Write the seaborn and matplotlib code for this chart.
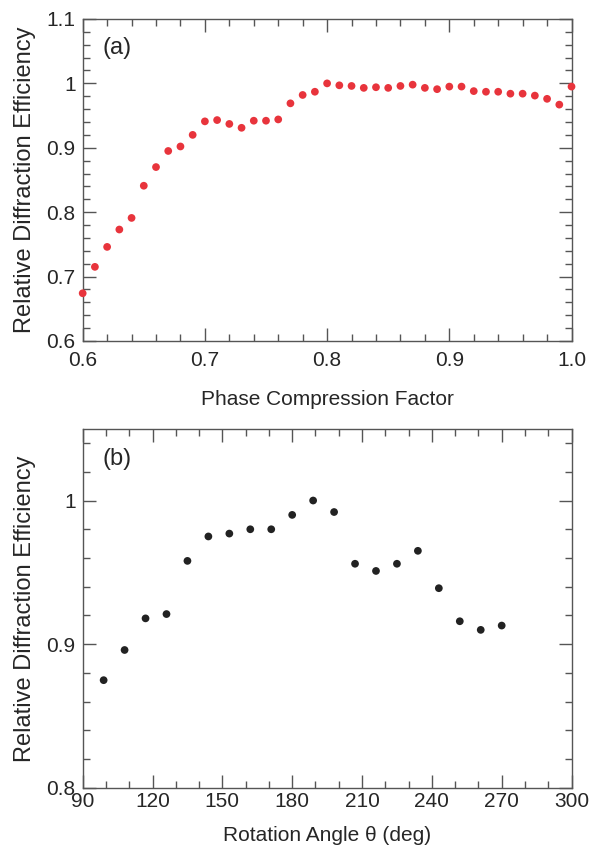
import numpy as np
import pandas as pd
import matplotlib
matplotlib.use('Agg')
import matplotlib.pyplot as plt
from matplotlib.ticker import MultipleLocator, FormatStrFormatter
import seaborn as sns

sns.set_style('ticks')
plt.rcParams['font.family'] = ['Liberation Sans', 'DejaVu Sans']

# panel (a): phase compression factor vs relative efficiency
factor = [0.60, 0.61, 0.62, 0.63, 0.64, 0.65, 0.66, 0.67, 0.68, 0.69,
          0.70, 0.71, 0.72, 0.73, 0.74, 0.75, 0.76, 0.77, 0.78, 0.79,
          0.80, 0.81, 0.82, 0.83, 0.84, 0.85, 0.86, 0.87, 0.88, 0.89,
          0.90, 0.91, 0.92, 0.93, 0.94, 0.95, 0.96, 0.97, 0.98, 0.99, 1.00]
eff_a = [0.674, 0.715, 0.746, 0.773, 0.791, 0.841, 0.870, 0.895, 0.902, 0.920,
         0.941, 0.943, 0.937, 0.931, 0.942, 0.942, 0.944, 0.969, 0.982, 0.987,
         1.000, 0.997, 0.996, 0.993, 0.994, 0.993, 0.996, 0.998, 0.993, 0.991,
         0.995, 0.995, 0.988, 0.987, 0.987, 0.984, 0.984, 0.981, 0.976, 0.967, 0.995]

# panel (b): rotation angle vs relative efficiency
angle = [99, 108, 117, 126, 135, 144, 153, 162, 171, 180,
         189, 198, 207, 216, 225, 234, 243, 252, 261, 270]
eff_b = [0.875, 0.896, 0.918, 0.921, 0.958, 0.975, 0.977, 0.980, 0.980, 0.990,
         1.000, 0.992, 0.956, 0.951, 0.956, 0.965, 0.939, 0.916, 0.910, 0.913]

df_a = pd.DataFrame({'factor': factor, 'eff': eff_a})
df_b = pd.DataFrame({'angle': angle, 'eff': eff_b})

fig = plt.figure(figsize=(6.08, 8.48), dpi=100)
ax1 = fig.add_axes([0.136, 0.598, 0.804, 0.3796])
ax2 = fig.add_axes([0.136, 0.0708, 0.804, 0.4237])

sns.scatterplot(data=df_a, x='factor', y='eff', ax=ax1, color='#e8343c',
                s=31, edgecolor='none', clip_on=False, zorder=3)
sns.scatterplot(data=df_b, x='angle', y='eff', ax=ax2, color='#222222',
                s=31, edgecolor='none', clip_on=False, zorder=3)

spine_col = '#555555'
for ax in (ax1, ax2):
    for sp in ax.spines.values():
        sp.set_visible(True)
        sp.set_color(spine_col)
        sp.set_linewidth(1.0)
    ax.tick_params(which='both', direction='in', top=True, right=True,
                   color=spine_col, width=1.0, labelsize=15)
    ax.tick_params(axis='y', pad=5)
    ax.tick_params(which='major', length=9.5)
    ax.tick_params(which='minor', length=4.8)
    ax.set_ylabel('Relative Diffraction Efficiency', fontsize=17, labelpad=8)

ax1.tick_params(axis='x', pad=7)
ax2.tick_params(axis='x', pad=3)

ax1.set_xlim(0.6, 1.0)
ax1.set_ylim(0.6, 1.1)
ax1.xaxis.set_major_locator(MultipleLocator(0.1))
ax1.xaxis.set_minor_locator(MultipleLocator(0.02))
ax1.yaxis.set_major_locator(MultipleLocator(0.1))
ax1.yaxis.set_minor_locator(MultipleLocator(0.02))
ax1.xaxis.set_major_formatter(FormatStrFormatter('%.1f'))
ax1.set_yticks([0.6, 0.7, 0.8, 0.9, 1.0, 1.1], ['0.6', '0.7', '0.8', '0.9', '1', '1.1'])
ax1.set_xlabel('Phase Compression Factor', fontsize=15, labelpad=15)
ax1.text(0.04, 0.91, '(a)', transform=ax1.transAxes, fontsize=17, va='center')

ax2.set_xlim(90, 300)
ax2.set_ylim(0.8, 1.05)
ax2.xaxis.set_major_locator(MultipleLocator(30))
ax2.xaxis.set_minor_locator(MultipleLocator(10))
ax2.yaxis.set_minor_locator(MultipleLocator(0.02))
ax2.set_yticks([0.8, 0.9, 1.0], ['0.8', '0.9', '1'])
ax2.set_xlabel('Rotation Angle \u03b8 (deg)', fontsize=15, labelpad=11)
ax2.text(0.04, 0.916, '(b)', transform=ax2.transAxes, fontsize=17, va='center')

fig.savefig('out.png', dpi=100)
